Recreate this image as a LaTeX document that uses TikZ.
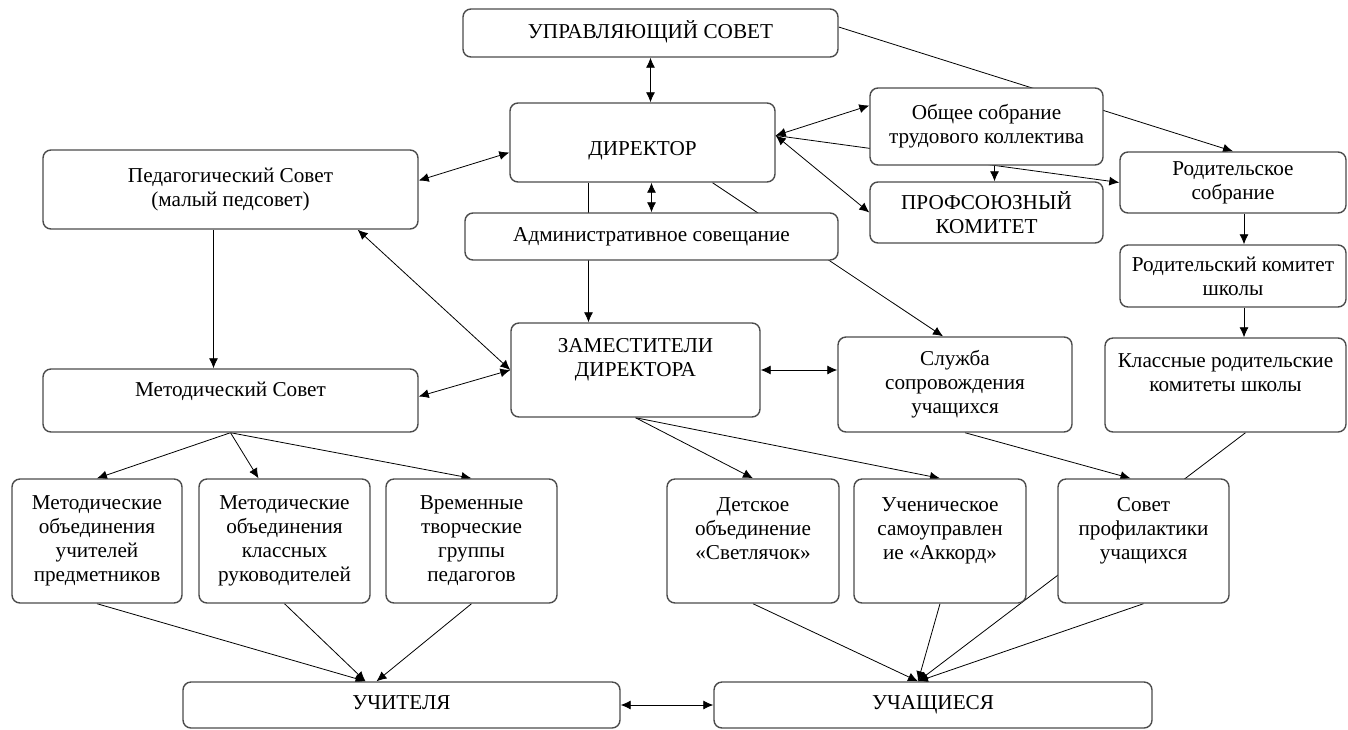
\documentclass[tikz,border=0pt]{standalone}
\usepackage{fontspec}
\setmainfont{Liberation Serif}
\usetikzlibrary{arrows.meta,calc,backgrounds}

\begin{document}
\begin{tikzpicture}[x=0.5pt,y=-0.5pt,
    box/.style={draw=black!70,line width=0.7pt,rounded corners=4pt,fill=white,
      align=center,inner sep=2pt,font=\fontsize{10.6pt}{12pt}\selectfont},
    link/.style={line width=0.6pt,>={Latex[length=5pt,width=4.5pt]}}]
  \useasboundingbox (0,0) rectangle (1348,729);
  % top block
  \node[box,minimum width=187.5pt,minimum height=24pt](us) at (650.5,33) {\strut УПРАВЛЯЮЩИЙ СОВЕТ};
  \node[box,minimum width=132.5pt,minimum height=39.5pt](dir) at (642.5,142.5) {\raisebox{-4pt}[\height][\depth]{\strut ДИРЕКТОР}};
  \node[box,minimum width=186.5pt,minimum height=23.5pt](adm) at (651.5,236.5) {\strut Административное совещание};
  \node[box,minimum width=116.5pt,minimum height=38.5pt](obs) at (986.5,126.5) {Общее собрание\\трудового коллектива};
  \node[box,minimum width=116.5pt,minimum height=30.5pt](prof) at (986.5,212.5) {ПРОФСОЮЗНЫЙ\\КОМИТЕТ};
  \node[box,minimum width=113pt,minimum height=30.5pt](rodsobr) at (1233,182.5) {Родительское\\собрание};
  \node[box,minimum width=113pt,minimum height=31pt](rodkom) at (1233,276) {Родительский комитет\\школы};
  \node[box,minimum width=120.5pt,minimum height=47pt](klass) at (1225.5,385) {Классные родительские\\комитеты школы\\[-3pt]\strut};
  \node[box,minimum width=117pt,minimum height=47.5pt](sluzh) at (955,384.5) {Служба\\сопровождения\\учащихся};
  \node[box,minimum width=124.5pt,minimum height=47pt](zam) at (635.5,370) {ЗАМЕСТИТЕЛИ\\ДИРЕКТОРА\\[-3pt]\strut};
  \node[box,minimum width=187.5pt,minimum height=39.5pt](ped) at (230.5,189.5) {Педагогический Совет\\(малый педсовет)};
  \node[box,minimum width=187.5pt,minimum height=31.5pt](met) at (230.5,400.5) {Методический Совет\\[-4pt]\strut};
  % third row
  \node[box,minimum width=85pt,minimum height=62pt](mou) at (97,541) {Методические\\объединения\\учителей\\предметников};
  \node[box,minimum width=85.5pt,minimum height=62pt](mok) at (284.5,541) {Методические\\объединения\\классных\\руководителей};
  \node[box,minimum width=85.5pt,minimum height=62pt](vtg) at (471.5,541) {Временные\\творческие\\группы\\педагогов};
  \node[box,minimum width=86pt,minimum height=62pt](det) at (753,541) {Детское\\объединение\\«Светлячок»\\[-3pt]\strut};
  \node[box,minimum width=86pt,minimum height=62pt](uch) at (940,541) {Ученическое\\самоуправлен\\ие «Аккорд»\\[-3pt]\strut};
  \node[box,minimum width=85.5pt,minimum height=62pt](sov) at (1143.5,541) {Совет\\профилактики\\учащихся\\[-3pt]\strut};
  % bottom row
  \node[box,minimum width=218.5pt,minimum height=23pt](teach) at (401.5,705) {\strut УЧИТЕЛЯ};
  \node[box,minimum width=219pt,minimum height=23pt](pupil) at (933,705) {\strut УЧАЩИЕСЯ};
  % helper points
  \coordinate(dz) at ($(dir.south)+(-54,0)$);
  \coordinate(ds) at ($(dir.south)+(70,0)$);
  \coordinate(dr) at ($(dir.east)+(0,-7)$);
  \coordinate(ue) at ($(us.east)+(0,-6)$);
  \coordinate(pe) at ($(ped.east)+(0,-9)$);
  \coordinate(dw) at ($(dir.west)+(0,10)$);
  \coordinate(ps) at ($(ped.south east)+(-61,0)$);
  \coordinate(pm) at ($(ped.south)+(-17,0)$);
  \coordinate(ow) at ($(obs.west)+(0,-21)$);
  \coordinate(os) at ($(obs.south)+(8,0)$);
  \coordinate(rs) at ($(rodsobr.south)+(11,0)$);
  \coordinate(rk) at ($(rodkom.south)+(11,0)$);
  \coordinate(sn) at ($(sluzh.north)+(-12,0)$);
  \coordinate(ss) at ($(sluzh.south)+(10,0)$);
  \coordinate(sv) at ($(sov.north)+(-13,0)$);
  \coordinate(ks) at ($(klass.south)+(20,0)$);
  \coordinate(mk) at ($(mok.north)+(-26,0)$);
  \coordinate(t1) at ($(teach.north)+(-36,0)$);
  \coordinate(t2) at ($(teach.north)+(-25,0)$);
  \coordinate(p1) at ($(pupil.north)+(-15,0)$);
  \begin{scope}[on background layer,link]
    \path[<->] (us.south) edge (us.south |- dir.north);
    \path[<->] (dir.south -| adm.north) edge (adm.north);
    \path[->] (dz) edge (dz |- zam.north);
    \path[->] (ds) edge (sn);
    \path[->] (ue) edge (rodsobr.north);
    \path[<->] (dr) edge (ow);
    \path[->] (dr) edge (rodsobr.west);
    \path[<->] (dr) edge (prof.west);
    \path[->] (os) edge (os |- prof.north);
    \path[->] (rs) edge (rs |- rodkom.north);
    \path[->] (rk) edge (rk |- klass.north);
    \path[<->] (zam.east) edge (zam.east -| sluzh.west);
    \path[<->] (pe) edge (dw);
    \path[<->] (ps) edge (zam.west);
    \path[<->] ($(met.east)+(0,-4)$) edge (zam.west);
    \path[->] (pm) edge (pm |- met.north);
    \path[->] (met.south) edge (mou.north);
    \path[->] (met.south) edge (mk);
    \path[->] (met.south) edge (vtg.north);
    \path[->] (mou.south) edge (t1);
    \path[->] (mok.south) edge (t1);
    \path[->] (vtg.south) edge (t2);
    \path[<->] (teach.east) edge (pupil.west);
    \path[->] (zam.south) edge (det.north);
    \path[->] (zam.south) edge (uch.north);
    \path[->] (ss) edge (sv);
    \path[->] (ks) edge (p1);
    \path[->] (det.south) edge (p1);
    \path[->] (uch.south) edge (p1);
    \path[->] (sov.south) edge (p1);
  \end{scope}
\end{tikzpicture}
\end{document}
